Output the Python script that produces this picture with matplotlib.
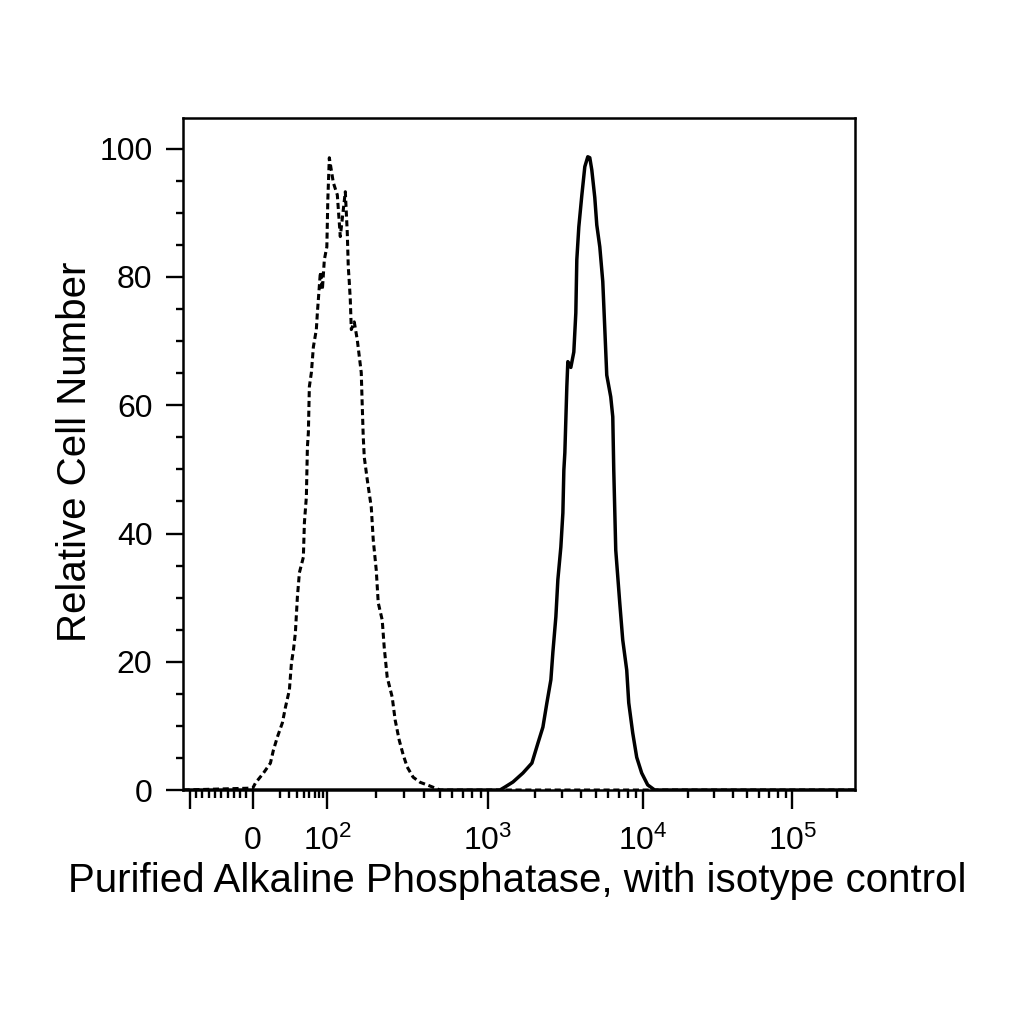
import numpy as np
import matplotlib
matplotlib.use('Agg')
import matplotlib.pyplot as plt

plt.rcParams['font.family'] = ['Liberation Sans', 'DejaVu Sans']
plt.rcParams['mathtext.default'] = 'regular'

# isotype control (dashed): fluorescence intensity vs relative cell number
iso_x = [-110, 0, 1.5, 6.5, 11.6, 14.0, 17.6, 22.4, 25.6, 30.1, 32.6, 35.1, 37.7,
         40.5, 43.4, 49.5, 51.2, 54.5, 56.3, 58.0, 59.8, 63.6, 67.5, 73.6, 75.8,
         82.6, 87.3, 92.2, 98.7, 100.7, 102.9, 109, 115.4, 120.4, 129.4, 133.1,
         135, 136.9, 139, 141, 147.1, 153.6, 162.6, 165, 167.3, 169.8, 177.2,
         187.7, 193.1, 201.6, 207.4, 219.6, 225.9, 235.8, 253.3, 264.4, 280.0,
         296.5, 314, 342, 378, 418, 503, 262144]
iso_y = [0, 0.3, 1.1, 2.65, 4.2, 6.2, 8.3, 10.5, 12.9, 15.6, 19.8, 21.8, 24.5,
         30.1, 33.9, 36.3, 41.7, 45.7, 53.5, 55.7, 62.9, 65.1, 69.1, 71.8, 74.4,
         80.8, 78.0, 82.7, 84.7, 92.0, 98.6, 94.7, 92.8, 86.3, 93.3, 86.9,
         81.6, 79.3, 76.4, 71.8, 73.0, 70.2, 65.1, 59.8, 55.1, 51.9, 48.4,
         44.1, 39.0, 34.3, 29.2, 26.5, 22.3, 17.6, 14.5, 10.9, 7.8,
         5.5, 3.6, 2.0, 1.2, 0.8, 0, 0]

# purified alkaline phosphatase (solid)
alp_x = [-110, 1195, 1288, 1450, 1682, 1922, 2102, 2264, 2403, 2550, 2627, 2746,
         2829, 2958, 3048, 3093, 3139, 3233, 3282, 3431, 3587, 3696, 3751, 3864,
         4040, 4225, 4417, 4550, 4688, 4901, 5050, 5281, 5520, 5685, 5857, 6216,
         6406, 6501, 6697, 7107, 7430, 7885, 8124, 8621, 9149, 9852, 10798,
         12023, 262144]
alp_y = [0, 0, 0.47, 1.25, 2.65, 4.2, 7.3, 9.8, 13.6, 17.2, 21.5, 27.0,
         32.8, 37.9, 43.2, 49.9, 52.6, 62.9, 66.8, 65.9, 68.3, 74.4, 82.7, 87.8,
         92.7, 97.2, 98.75, 98.6, 96.7, 92.4, 88.1, 84.7, 79.3, 72.1, 64.7, 61.3,
         58.2, 49.9, 37.4, 29.2, 23.4, 18.7, 13.6, 8.9, 5.1, 2.65, 0.8,
         0, 0]

x_major = [-100, 0, 1e2, 1e3, 1e4, 1e5]
x_major_labels = ['', '0', '$10^{2}$', '$10^{3}$', '$10^{4}$', '$10^{5}$']
x_minor = ([-90, -80, -70, -60, -50, -40, -30, -20, -10]
           + [20, 30, 40, 50, 60, 70, 80, 90]
           + [k * 100 for k in range(2, 10)]
           + [k * 1000 for k in range(2, 10)]
           + [k * 10000 for k in range(2, 10)]
           + [200000])

# logicle-like display axis: linear below 0, compressed 0..100, log decades above
DEC = [2, 3, 4, 5, 6]
POS = [74.7, 235.7, 390.7, 540.7, 690.7]


def fwd(x):
    x = np.asarray(x, dtype=float)
    lo = x * 0.63
    t = np.clip(x, 0, 100) / 100
    mid = 74.7 * np.log10(1 + 4 * t) / np.log10(5)
    hi = np.interp(np.log10(np.maximum(x, 100)), DEC, POS)
    return np.where(x < 0, lo, np.where(x < 100, mid, hi))


def inv(y):
    y = np.asarray(y, dtype=float)
    lo = y / 0.63
    u = np.clip(y, 0, 74.7) / 74.7
    mid = 25 * (5 ** u - 1)
    hi = 10 ** np.interp(np.maximum(y, 74.7), POS, DEC)
    return np.where(y < 0, lo, np.where(y < 74.7, mid, hi))


fig = plt.figure(figsize=(10.24, 10.24), dpi=100)
ax = fig.add_axes([0.1787, 0.2285, 0.6563, 0.6563])
ax.set_xscale('function', functions=(fwd, inv))

ax.plot(iso_x, iso_y, color='black', lw=2.2, dashes=(2.0, 1.2))
ax.plot(alp_x, alp_y, color='black', lw=2.5)

ax.set_xlim(-111, 262144)
ax.set_ylim(0, 104.8)

ax.set_xticks(x_major)
ax.set_xticklabels(x_major_labels)
ax.set_xticks(x_minor, minor=True)
ax.set_yticks(np.arange(0, 101, 20))
ax.set_yticks(np.arange(0, 101, 5), minor=True)

ax.tick_params(axis='both', which='both', direction='out', width=1.7, colors='black')
ax.tick_params(axis='x', which='major', length=14, pad=12, labelsize=23)
ax.tick_params(axis='x', which='minor', length=6)
ax.tick_params(axis='y', which='major', length=12, pad=10, labelsize=23)
ax.tick_params(axis='y', which='minor', length=5)

for s in ax.spines.values():
    s.set_linewidth(1.8)

ax.set_xlabel('Purified Alkaline Phosphatase, with isotype control', fontsize=29, va='center')
ax.xaxis.set_label_coords(0.497, -0.136)
ax.set_ylabel('Relative Cell Number', fontsize=29, va='center')
ax.yaxis.set_label_coords(-0.16, 0.503)

fig.savefig('out.png', dpi=100)
